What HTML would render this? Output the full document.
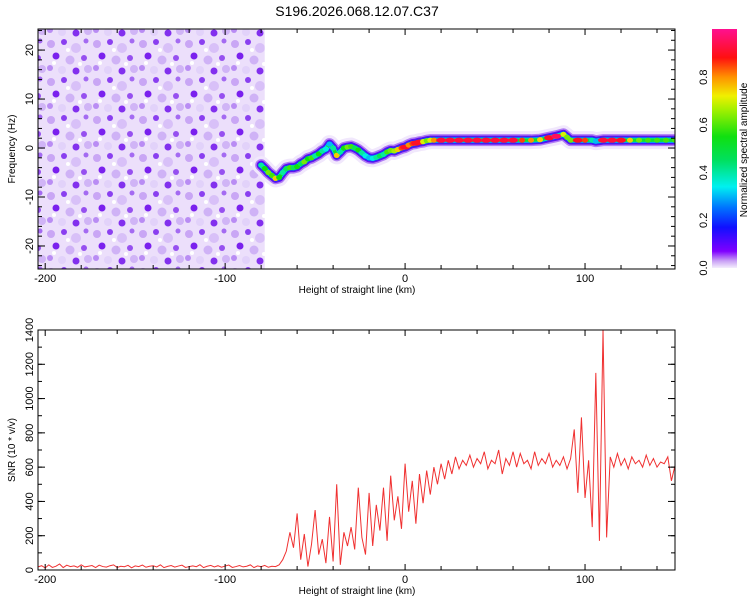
<!DOCTYPE html>
<html><head><meta charset="utf-8">
<style>
body{margin:0;background:#fff;}
svg{display:block;font-family:"Liberation Sans",sans-serif;}
</style></head>
<body>
<svg id="chart" width="750" height="600" viewBox="0 0 750 600">
<defs>
<pattern id="noisePat" x="0" y="0" width="46" height="38" patternUnits="userSpaceOnUse">
<rect width="46" height="38" fill="#ecdffb"/>
<circle cx="5" cy="6" r="4" fill="#c9a6f5"/>
<circle cx="18" cy="4" r="3" fill="#8a3ff0"/>
<circle cx="30" cy="10" r="5" fill="#d8c0f8"/>
<circle cx="40" cy="3" r="2.5" fill="#a46af2"/>
<circle cx="10" cy="18" r="3.5" fill="#7a20ee"/>
<circle cx="24" cy="22" r="4.5" fill="#cfb2f6"/>
<circle cx="38" cy="20" r="3" fill="#9650f0"/>
<circle cx="4" cy="30" r="3" fill="#b98cf4"/>
<circle cx="16" cy="32" r="4" fill="#e2d2fa"/>
<circle cx="30" cy="33" r="3.5" fill="#8230ee"/>
<circle cx="42" cy="31" r="4" fill="#d0b4f6"/>
<circle cx="22" cy="12" r="2" fill="#fff"/>
<circle cx="34" cy="26" r="2" fill="#fff"/>
<circle cx="8" cy="25" r="2" fill="#fff"/>
</pattern>
<linearGradient id="cbar" x1="0" y1="1" x2="0" y2="0">
<stop offset="0" stop-color="#f4eefc"/>
<stop offset="0.03" stop-color="#c9a0f5"/>
<stop offset="0.07" stop-color="#8000ff"/>
<stop offset="0.17" stop-color="#1010ff"/>
<stop offset="0.25" stop-color="#0070ff"/>
<stop offset="0.34" stop-color="#00f0f0"/>
<stop offset="0.45" stop-color="#00e060"/>
<stop offset="0.55" stop-color="#10e010"/>
<stop offset="0.66" stop-color="#a0f000"/>
<stop offset="0.72" stop-color="#f0f000"/>
<stop offset="0.8" stop-color="#ff9000"/>
<stop offset="0.88" stop-color="#ff1010"/>
<stop offset="1" stop-color="#ff1090"/>
</linearGradient>
<clipPath id="clipTop"><rect x="38" y="29" width="637" height="240"/></clipPath>
<clipPath id="clipBot"><rect x="38" y="330" width="637" height="240"/></clipPath>
</defs>
<text x="357" y="16" font-size="14" text-anchor="middle">S196.2026.068.12.07.C37</text>
<g id="top"></g>
<g id="bot"></g>
<g id="cb"></g>
</svg>
<script>
const ridgeHeights=[-80,-78,-76,-74,-72,-70,-68,-66,-64,-62,-60,-58,-56,-54,-52,-50,-48,-46,-44,-42,-40,-38,-36,-34,-32,-30,-28,-26,-24,-22,-20,-18,-16,-14,-12,-10,-8,-6,-4,-2,0,2,4,6,8,10,12,14,16,20,25,30,35,40,45,50,55,60,65,70,75,80,84,88,90,92,96,100,104,106,110,115,120,125,130,135,140,145,150];
const ridgeFreq=[-3.5,-4.2,-5,-5.6,-6.2,-6,-5,-4.2,-4,-4,-3.8,-3.2,-2.8,-2.2,-2,-1.6,-1.2,-0.6,-0.2,0.8,0,-1.5,-0.8,0,0.2,0.3,0,-0.4,-1,-1.6,-2,-2.1,-1.9,-1.6,-1.3,-0.8,-0.5,-0.6,-0.3,0,0.2,0.6,0.9,1,1.2,1.3,1.5,1.6,1.6,1.6,1.6,1.6,1.6,1.6,1.6,1.6,1.6,1.6,1.6,1.6,1.7,2.1,2.4,2.8,2.2,1.6,1.6,1.6,1.6,1.4,1.6,1.6,1.6,1.6,1.6,1.6,1.6,1.6,1.6];
const ridgeAmp=[0.4,0.5,0.6,0.55,0.75,0.5,0.4,0.45,0.55,0.45,0.5,0.45,0.6,0.5,0.55,0.4,0.5,0.4,0.35,0.3,0.4,0.75,0.4,0.5,0.6,0.55,0.45,0.5,0.4,0.35,0.3,0.35,0.4,0.45,0.4,0.55,0.6,0.65,0.75,0.85,0.9,0.8,0.85,0.9,0.9,0.7,0.6,0.7,0.8,0.92,0.92,0.92,0.92,0.92,0.92,0.92,0.92,0.92,0.85,0.8,0.75,0.9,0.95,0.7,0.6,0.6,0.9,0.85,0.4,0.3,0.92,0.92,0.9,0.75,0.6,0.55,0.55,0.55,0.55];
// one SNR value every 2 km from -204 to 150 (178 values)
const snrValues=[
// -204..-72 (67)
18,25,12,30,15,22,35,14,28,20,24,16,30,18,22,26,14,28,20,17,
25,30,15,22,19,27,13,24,20,29,16,22,25,18,30,14,21,26,17,23,
28,15,20,24,19,31,14,22,27,18,25,16,23,29,15,20,26,18,22,30,
14,24,19,27,16,22,20,
// -70..-2 (35)
30,60,110,220,130,330,60,210,20,150,350,90,180,40,310,50,500,30,220,140,
250,120,480,190,90,450,140,380,230,480,170,550,290,430,240,
// 0..30 (16)
620,340,520,270,560,390,580,440,600,500,620,530,640,560,660,590,
// 32..92 (31)
640,610,670,600,650,620,690,590,640,620,700,560,650,610,690,600,680,620,640,590,
690,610,650,620,680,600,640,610,660,590,650,
// 94..112 (10)
820,450,890,420,640,250,1150,170,1400,190,
// 114..150 (19)
660,600,680,610,650,590,660,620,640,600,670,610,650,600,630,620,660,520,610];
const xTicks=[-200,-100,0,100];
const fTicks=[-20,-10,0,10,20];
const snrTicks=[0,200,400,600,800,1000,1200,1400];
const cbTicks=[0,0.2,0.4,0.6,0.8];

const NS="http://www.w3.org/2000/svg";
function mk(tag,attrs,parent){const e=document.createElementNS(NS,tag);for(const k in attrs)e.setAttribute(k,attrs[k]);parent.appendChild(e);return e;}
const L=38,R=675;
const xs=h=>L+(h+204)/(354)*(R-L);
const yf=f=>29+(24.3-f)/49*240;
const ys=v=>570-v/1400*240;
const ycb=a=>268-a/0.8*190.8;

function cmap(a){
  const st=[[0,[244,238,252]],[0.07,[128,0,255]],[0.17,[16,16,255]],[0.34,[0,240,240]],[0.5,[16,224,16]],[0.72,[240,240,0]],[0.8,[255,144,0]],[0.88,[255,16,16]],[1,[255,16,144]]];
  for(let i=1;i<st.length;i++){if(a<=st[i][0]){const t=(a-st[i-1][0])/(st[i][0]-st[i-1][0]);const c=st[i-1][1].map((v,j)=>Math.round(v+(st[i][1][j]-v)*t));return `rgb(${c})`;}}
  return 'rgb(255,16,144)';
}

function axes(g,top0,bot0,yT,yfun,minorY){
  const fr=mk('rect',{x:L,y:top0,width:R-L,height:bot0-top0,fill:'none',stroke:'#000','stroke-width':1},g);
  
  for(let h=-200;h<=150;h+=20){
    const x=xs(h);const maj=h%100===0;
    mk('line',{x1:x,x2:x,y1:bot0,y2:bot0-(maj?6:4),stroke:'#000'},g);
    mk('line',{x1:x,x2:x,y1:top0,y2:top0+(maj?6:4),stroke:'#000'},g);
  }
  xTicks.forEach(h=>{const t=mk('text',{x:xs(h),y:bot0+13,'font-size':11,'text-anchor':'middle'},g);t.textContent=h;
    
    });
  minorY.forEach(v=>{const y=yfun(v);mk('line',{x1:L,x2:L+4,y1:y,y2:y,stroke:'#000'},g);mk('line',{x1:R,x2:R-4,y1:y,y2:y,stroke:'#000'},g);});
  yT.forEach(v=>{const y=yfun(v);mk('line',{x1:L,x2:L+7,y1:y,y2:y,stroke:'#000'},g);mk('line',{x1:R,x2:R-7,y1:y,y2:y,stroke:'#000'},g);
    const t=mk('text',{x:0,y:0,'font-size':11,'text-anchor':'middle',transform:`translate(${L-5},${y}) rotate(-90)`},g);t.textContent=v;
    
    });
  const xl=mk('text',{x:357,y:bot0+24,'font-size':10,'text-anchor':'middle'},g);xl.textContent='Height of straight line (km)';
  
  
}

// top panel
const topG=document.getElementById('top');
const gc=mk('g',{'clip-path':'url(#clipTop)'},topG);
const nz=mk('rect',{x:L,y:29,width:xs(-78)-L,height:240,fill:'url(#noisePat)'},gc);


const pts=ridgeHeights.map((h,i)=>xs(h)+','+yf(ridgeFreq[i])).join(' ');
[[18,'#f1e8fc'],[12,'#b07cf4'],[9,'#6010f0'],[6.5,'#1030ff'],[5,'#00d8f0'],[3.5,'#10e030']].forEach(([w,c])=>{
  const p=mk('polyline',{points:pts,fill:'none',stroke:c,'stroke-width':w,'stroke-linejoin':'round','stroke-linecap':'round'},gc);
  
  
});
ridgeHeights.forEach((h,i)=>{
  const c=mk('ellipse',{cx:xs(h),cy:yf(ridgeFreq[i]),rx:ridgeAmp[i]>0.85?5:3,ry:2.6,fill:cmap(ridgeAmp[i])},gc);
  
  
});
const yl1=mk('text',{x:0,y:0,'font-size':10,'text-anchor':'middle',transform:'translate(15,149) rotate(-90)'},topG);yl1.textContent='Frequency (Hz)';


const fm=[];for(let f=-24;f<=24;f+=2)fm.push(f);
axes(topG,29,269,fTicks,yf,fm);

// bottom panel
const botG=document.getElementById('bot');
const gb=mk('g',{'clip-path':'url(#clipBot)'},botG);
const sp=snrValues.map((v,i)=>xs(-204+2*i)+','+ys(v)).join(' ');
const line=mk('polyline',{points:sp,fill:'none',stroke:'#f03030','stroke-width':1},gb);


const yl2=mk('text',{x:0,y:0,'font-size':10,'text-anchor':'middle',transform:'translate(15,450) rotate(-90)'},botG);yl2.textContent='SNR (10 * v/v)';


const sm=[];for(let v=0;v<=1400;v+=100)sm.push(v);
axes(botG,330,570,snrTicks,ys,sm);

// colorbar
const cb=document.getElementById('cb');
const cbr=mk('rect',{x:712,y:29,width:25,height:239,fill:'url(#cbar)'},cb);

cbTicks.forEach(a=>{const t=mk('text',{x:0,y:0,'font-size':11,'text-anchor':'middle',transform:`translate(707,${ycb(a)}) rotate(-90)`},cb);t.textContent=a.toFixed(1);
  
  });
const ct=mk('text',{x:0,y:0,'font-size':10,'text-anchor':'middle',transform:'translate(747,150) rotate(-90)'},cb);ct.textContent='Normalized spectral amplitude';


</script>
</body></html>
